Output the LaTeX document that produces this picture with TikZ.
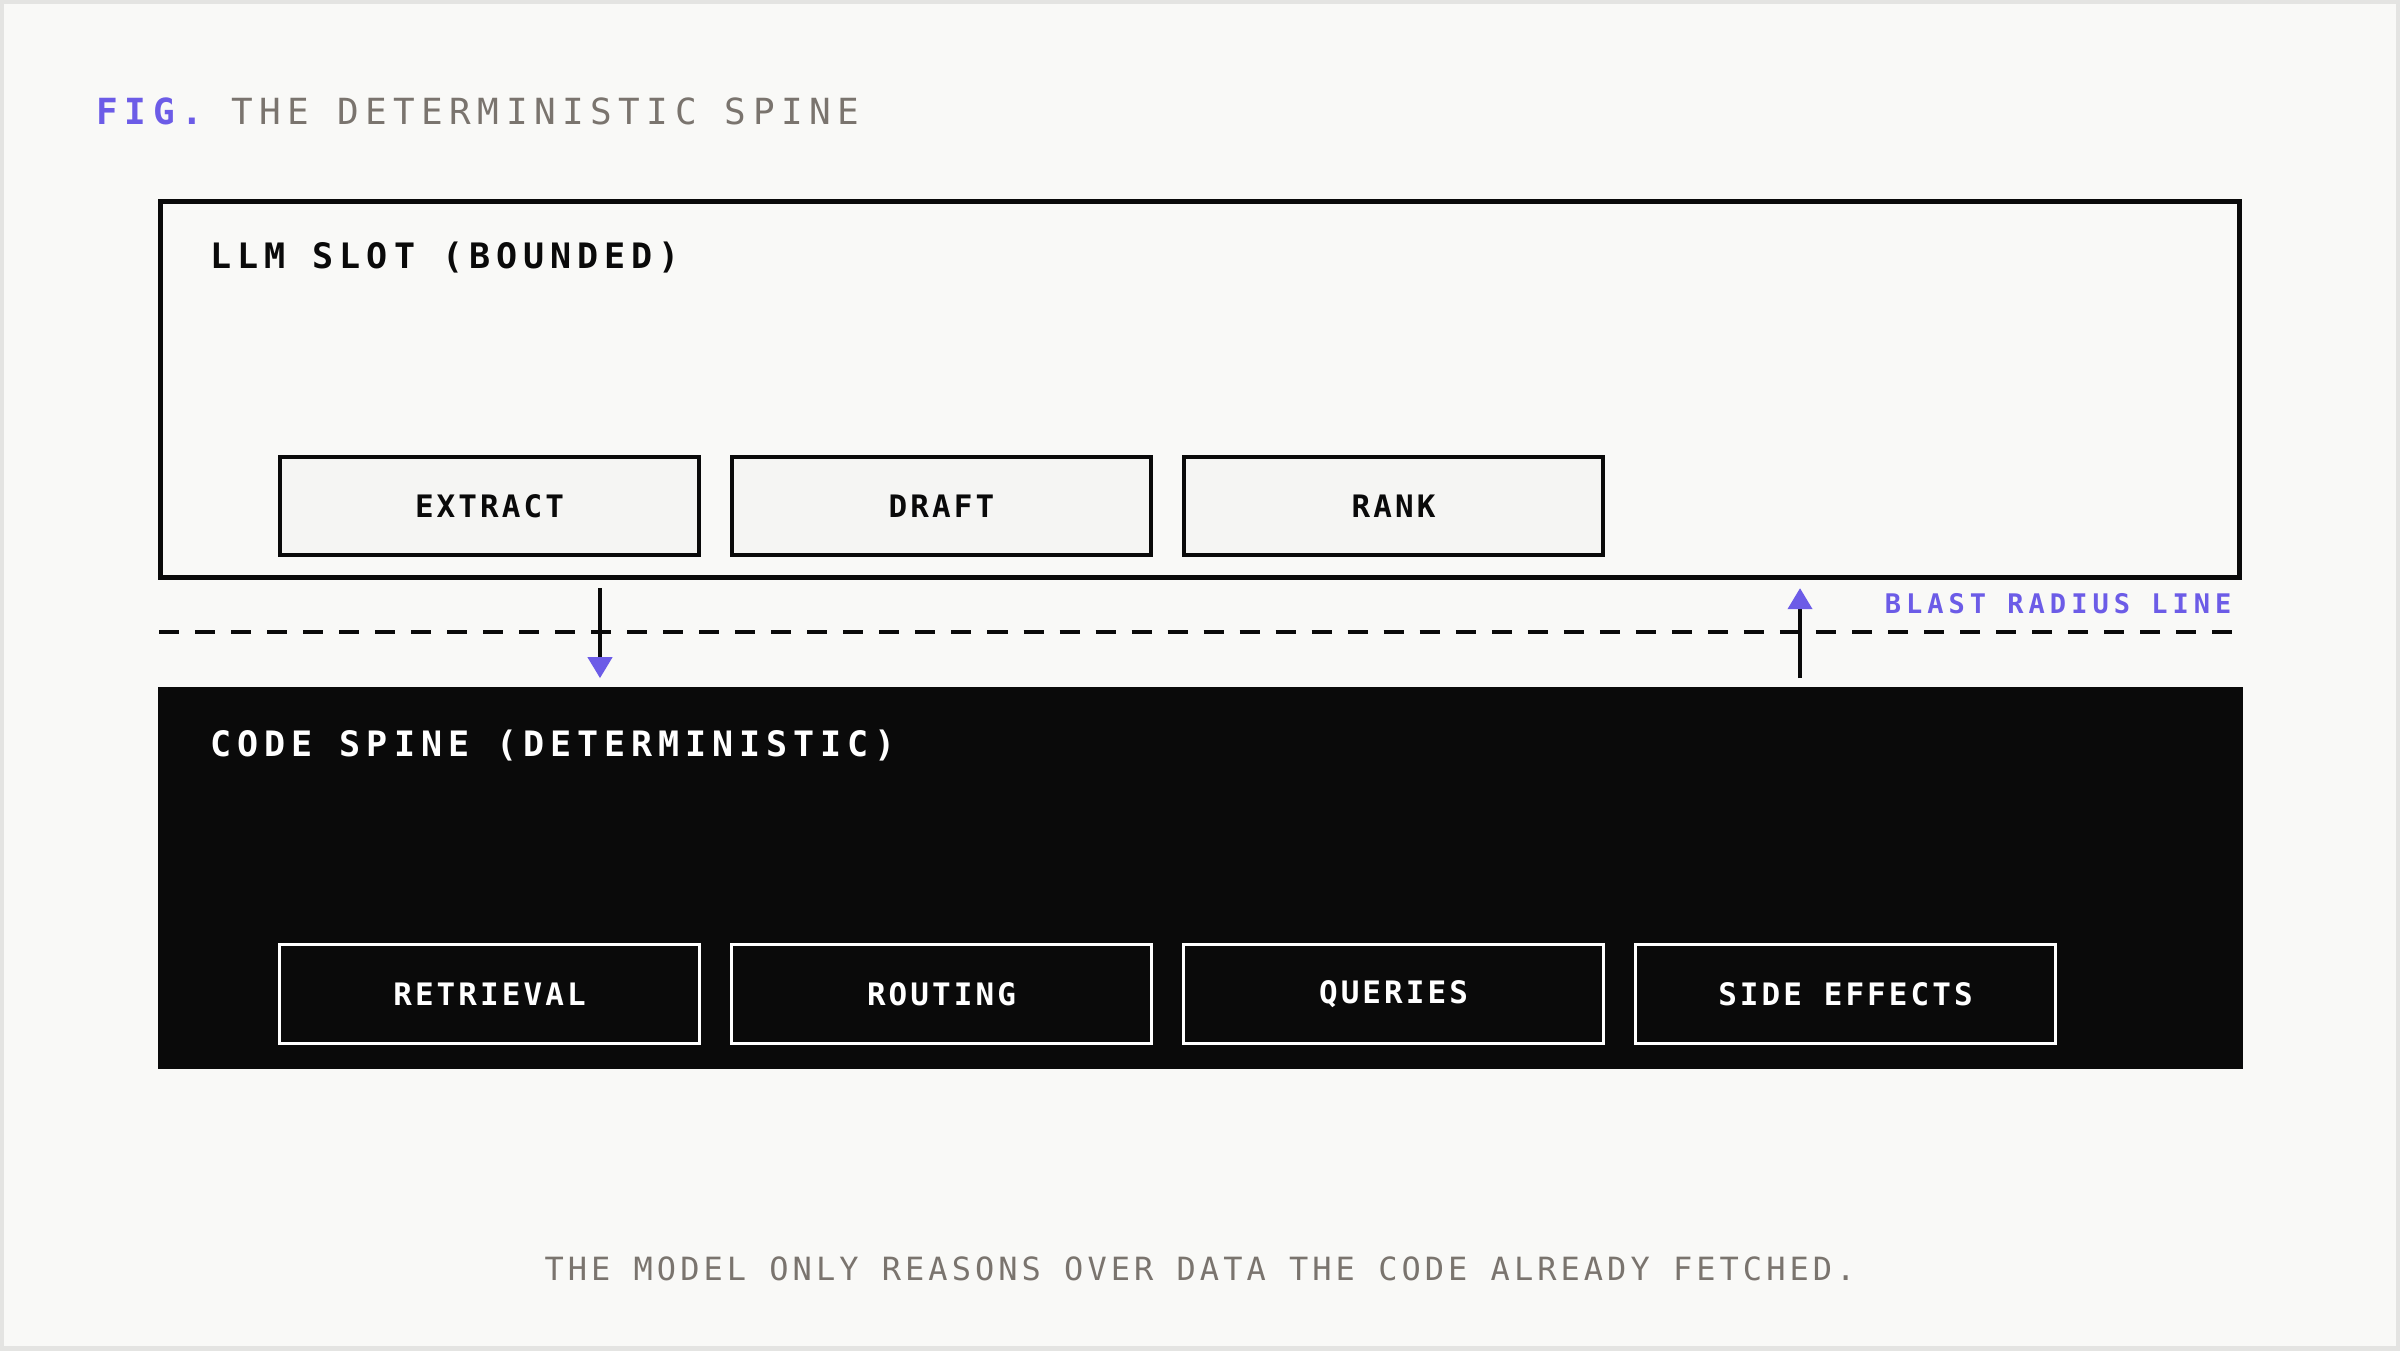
\documentclass[tikz,border=0pt]{standalone}
\usepackage{fontspec}
\usetikzlibrary{arrows.meta}
\newfontfamily\titlefont[LetterSpace=18]{DejaVu Sans Mono}
\newfontfamily\headfont[LetterSpace=17]{DejaVu Sans Mono}
\newfontfamily\blastfont[LetterSpace=18.5]{DejaVu Sans Mono}
\newfontfamily\capfont[LetterSpace=12.6]{DejaVu Sans Mono}
\newfontfamily\taskfont[LetterSpace=10]{DejaVu Sans Mono}
\definecolor{bg}{RGB}{249,249,247}
\definecolor{frame}{RGB}{228,228,226}
\definecolor{ink}{RGB}{10,10,10}
\definecolor{purp}{RGB}{108,92,231}
\definecolor{mute}{RGB}{122,116,110}
\definecolor{slotfill}{RGB}{245,245,243}

\begin{document}
\begin{tikzpicture}[
        x=0.01cm, y=-0.01cm,
        slot/.style={draw=ink, line width=0.05cm, minimum width=20.77cm, minimum height=3.76cm, inner sep=0pt},
        spinebox/.style={fill=ink, minimum width=20.83cm, minimum height=3.82cm, inner sep=0pt},
        head/.style={anchor=base west, inner sep=0pt, font=\headfont\bfseries\fontsize{9.96}{12}\selectfont},
        task/.style={draw=ink, fill=slotfill, text=ink, line width=0.035cm, minimum width=4.19cm, minimum height=0.98cm, inner sep=0pt, font=\taskfont\bfseries\fontsize{8.8}{10}\selectfont},
        spinetask/.style={task, draw=white, fill=ink, text=white, line width=0.03cm, minimum width=4.2cm, minimum height=0.99cm},
        flow/.style={draw=ink, line width=0.04cm, -{Triangle[length=0.21cm, width=0.24cm, color=purp]}, shorten <=0.08cm, shorten >=0.08cm},
        blast/.style={draw=ink, line width=0.04cm, dash pattern=on 0.2cm off 0.16cm},
        ]
        % canvas
        \useasboundingbox (0,0) rectangle (2400,1350);
        \path[fill=bg, draw=frame, line width=0.08cm] (0,0) rectangle (2400,1350);
        \node[anchor=base west, inner sep=0pt, text=mute, font=\titlefont\fontsize{10.24}{12}\selectfont] (title) at (96,124) {{\color{purp}\bfseries FIG.} THE DETERMINISTIC SPINE};
        % the two layers
        \node(llm)  [slot]     at (1200,389.5) {};
        \node(spine)[spinebox] at (1200.5,878) {};
        \node(llmhead)  [head, text=ink]   at (210,268) {LLM SLOT (BOUNDED)};
        \node(spinehead)[head, text=white] at (210,756) {CODE SPINE (DETERMINISTIC)};
        \foreach \nm/\txt [count=\i from 0] in {extract/EXTRACT, draft/DRAFT, rank/RANK}
          \node(\nm)[task] at (489.5+452*\i,506) {\txt};
        \foreach \nm/\txt [count=\i from 0] in {retrieval/RETRIEVAL, routing/ROUTING, queries/QUERIES, effects/SIDE EFFECTS}
          \node(\nm)[spinetask] at (489.5+452*\i,994) {\txt};
        % blast radius
        \draw[blast] (159,632) -- (2232,632);
        \node(blastlabel)[anchor=base east, inner sep=0pt, text=purp, font=\blastfont\bfseries\fontsize{7.68}{9}\selectfont] at (2232,613) {BLAST RADIUS LINE};
        \coordinate (down) at (600,0);
        \coordinate (up) at (1800,0);
        \draw[flow](llm.south -| down)--(spine.north -| down);
        \draw[flow](spine.north -| up)--(llm.south -| up);
        \node(caption)[anchor=base, inner sep=0pt, text=mute, font=\capfont\fontsize{9.1}{11}\selectfont] at (1200,1280) {THE MODEL ONLY REASONS OVER DATA THE CODE ALREADY FETCHED.};
      \end{tikzpicture}
\end{document}
